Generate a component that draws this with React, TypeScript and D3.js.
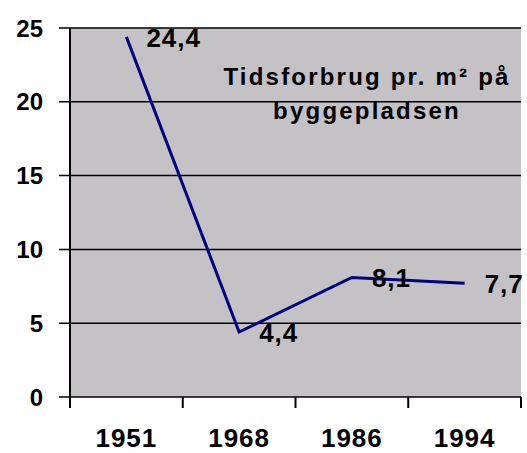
import React from "react";
import * as d3 from "d3";

const years = ["1951", "1968", "1986", "1994"];
const values = [24.4, 4.4, 8.1, 7.7];
const valueLabels = ["24,4", "4,4", "8,1", "7,7"];
const yTicks = [0, 5, 10, 15, 20, 25];
const titleLines = ["Tidsforbrug pr. m\u00b2 p\u00e5", "byggepladsen"];

const W = 527;
const H = 453;
const left = 70;
const right = 521;
const top = 28;
const bottom = 397;

const font = "'Liberation Sans', Arial, sans-serif";

export default function App() {
  const x = d3.scaleBand<string>().domain(years).range([left, right]);
  const y = d3.scaleLinear().domain([0, 25]).range([bottom, top]);
  const cx = (d: string) => (x(d) ?? 0) + x.bandwidth() / 2;

  const line = d3
    .line<number>()
    .x((d, i) => cx(years[i]))
    .y((d) => y(d));

  const bounds = [...years.map((d) => x(d) ?? 0), right];

  return (
    <svg
      width={W}
      height={H}
      style={{ position: "absolute", left: 0, top: 0, background: "#fff" }}
      fontFamily={font}
      fontWeight="bold"
    >
      <rect x={left} y={top} width={right - left} height={bottom - top} fill="#c4c2c5" />
      {yTicks.map((t) => (
        <g key={t}>
          <line x1={59} x2={right} y1={y(t)} y2={y(t)} stroke="#000" strokeWidth={1.5} />
          <text x={43} y={y(t)} dy="0.36em" textAnchor="end" fontSize={24}>
            {t}
          </text>
        </g>
      ))}
      <line x1={left} x2={left} y1={top} y2={bottom + 11} stroke="#000" strokeWidth={2} />
      {bounds.map((b, i) => (
        <line key={i} x1={b} x2={b} y1={bottom} y2={bottom + 11} stroke="#000" strokeWidth={2} />
      ))}
      {years.map((d) => (
        <text key={d} x={cx(d)} y={447} textAnchor="middle" fontSize={26} letterSpacing={1}>
          {d}
        </text>
      ))}
      <path d={line(values) ?? ""} fill="none" stroke="#000080" strokeWidth={3} />
      {values.map((v, i) => (
        <text key={i} x={cx(years[i]) + 20} y={y(v) + 10} fontSize={26} letterSpacing={1}>
          {valueLabels[i]}
        </text>
      ))}
      {titleLines.map((t, i) => (
        <text key={i} x={367} y={85 + i * 34} textAnchor="middle" fontSize={24} letterSpacing={2.2}>
          {t}
        </text>
      ))}
    </svg>
  );
}
